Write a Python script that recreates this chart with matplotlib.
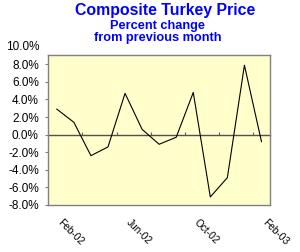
import matplotlib
matplotlib.use("Agg")
import matplotlib.pyplot as plt
import matplotlib.transforms as mtransforms
import numpy as np

plt.rcParams["font.family"] = ["Liberation Sans", "DejaVu Sans"]

# monthly percent change, Feb-02 .. Feb-03
months = ["Feb-02", "Mar-02", "Apr-02", "May-02", "Jun-02", "Jul-02", "Aug-02",
          "Sep-02", "Oct-02", "Nov-02", "Dec-02", "Jan-03", "Feb-03"]
pct_change = [2.9, 1.4, -2.4, -1.4, 4.7, 0.6, -1.1, -0.3, 4.8, -7.1, -4.9, 7.9, -0.8]
label_months = ["Feb-02", "Jun-02", "Oct-02", "Feb-03"]
y_ticks = [-8, -6, -4, -2, 0, 2, 4, 6, 8]
y_top_label = 10
ymin, ymax = -8, 9.1

fig = plt.figure(figsize=(3.0, 2.52), dpi=100)
fig.patch.set_facecolor("white")
ax = fig.add_axes([0.161, 0.187, 0.739, 0.596])
ax.set_facecolor("#FFFFCC")

x = np.arange(len(months))
ax.plot(x, pct_change, color="black", lw=0.8, zorder=3)

ax.set_xlim(-0.5, len(months) - 0.5)
ax.set_ylim(ymin, ymax)

# y axis
ax.set_yticks(y_ticks)
ax.set_yticklabels([f"{v:.1f}%" for v in y_ticks])
ax.text(-0.038, y_top_label, f"{y_top_label:.1f}%", transform=ax.get_yaxis_transform(),
        ha="right", va="center", fontsize=8.5, clip_on=False)
ax.tick_params(axis="y", direction="out", length=2.5, width=0.8, color="#808080",
               labelsize=8.5, pad=4.3)

# x labels at the bottom, no tick marks there
ax.set_xticks([months.index(m) for m in label_months])
ax.set_xticklabels(label_months, rotation=-45, ha="left", va="top",
                   rotation_mode="anchor", fontsize=7.3)
ax.tick_params(axis="x", length=0, pad=9)
shift = mtransforms.ScaledTranslation(0.06, 0, fig.dpi_scale_trans)
for lbl in ax.get_xticklabels():
    lbl.set_transform(lbl.get_transform() + shift)

for s in ax.spines.values():
    s.set_color("#808080")
    s.set_linewidth(1.0)

# category axis crossing at zero
sec = ax.secondary_xaxis((0 - ymin) / (ymax - ymin))
sec.set_xticks(np.arange(1.5, len(months), 2))
sec.tick_params(axis="x", direction="in", length=2.5, width=0.8, color="#606060",
                labelbottom=False)
sec.spines["bottom"].set_color("#505050")
sec.spines["bottom"].set_linewidth(1.0)

blue = "#0000FF"
fig.text(0.55, 0.94, "Composite Turkey Price", ha="center", va="baseline",
         fontsize=11.4, fontweight="bold", color=blue)
fig.text(0.525, 0.886, "Percent change", ha="center", va="baseline",
         fontsize=9.2, fontweight="bold", color=blue)
fig.text(0.527, 0.837, "from previous month", ha="center", va="baseline",
         fontsize=9.2, fontweight="bold", color=blue)

fig.savefig("out.png", dpi=100)
